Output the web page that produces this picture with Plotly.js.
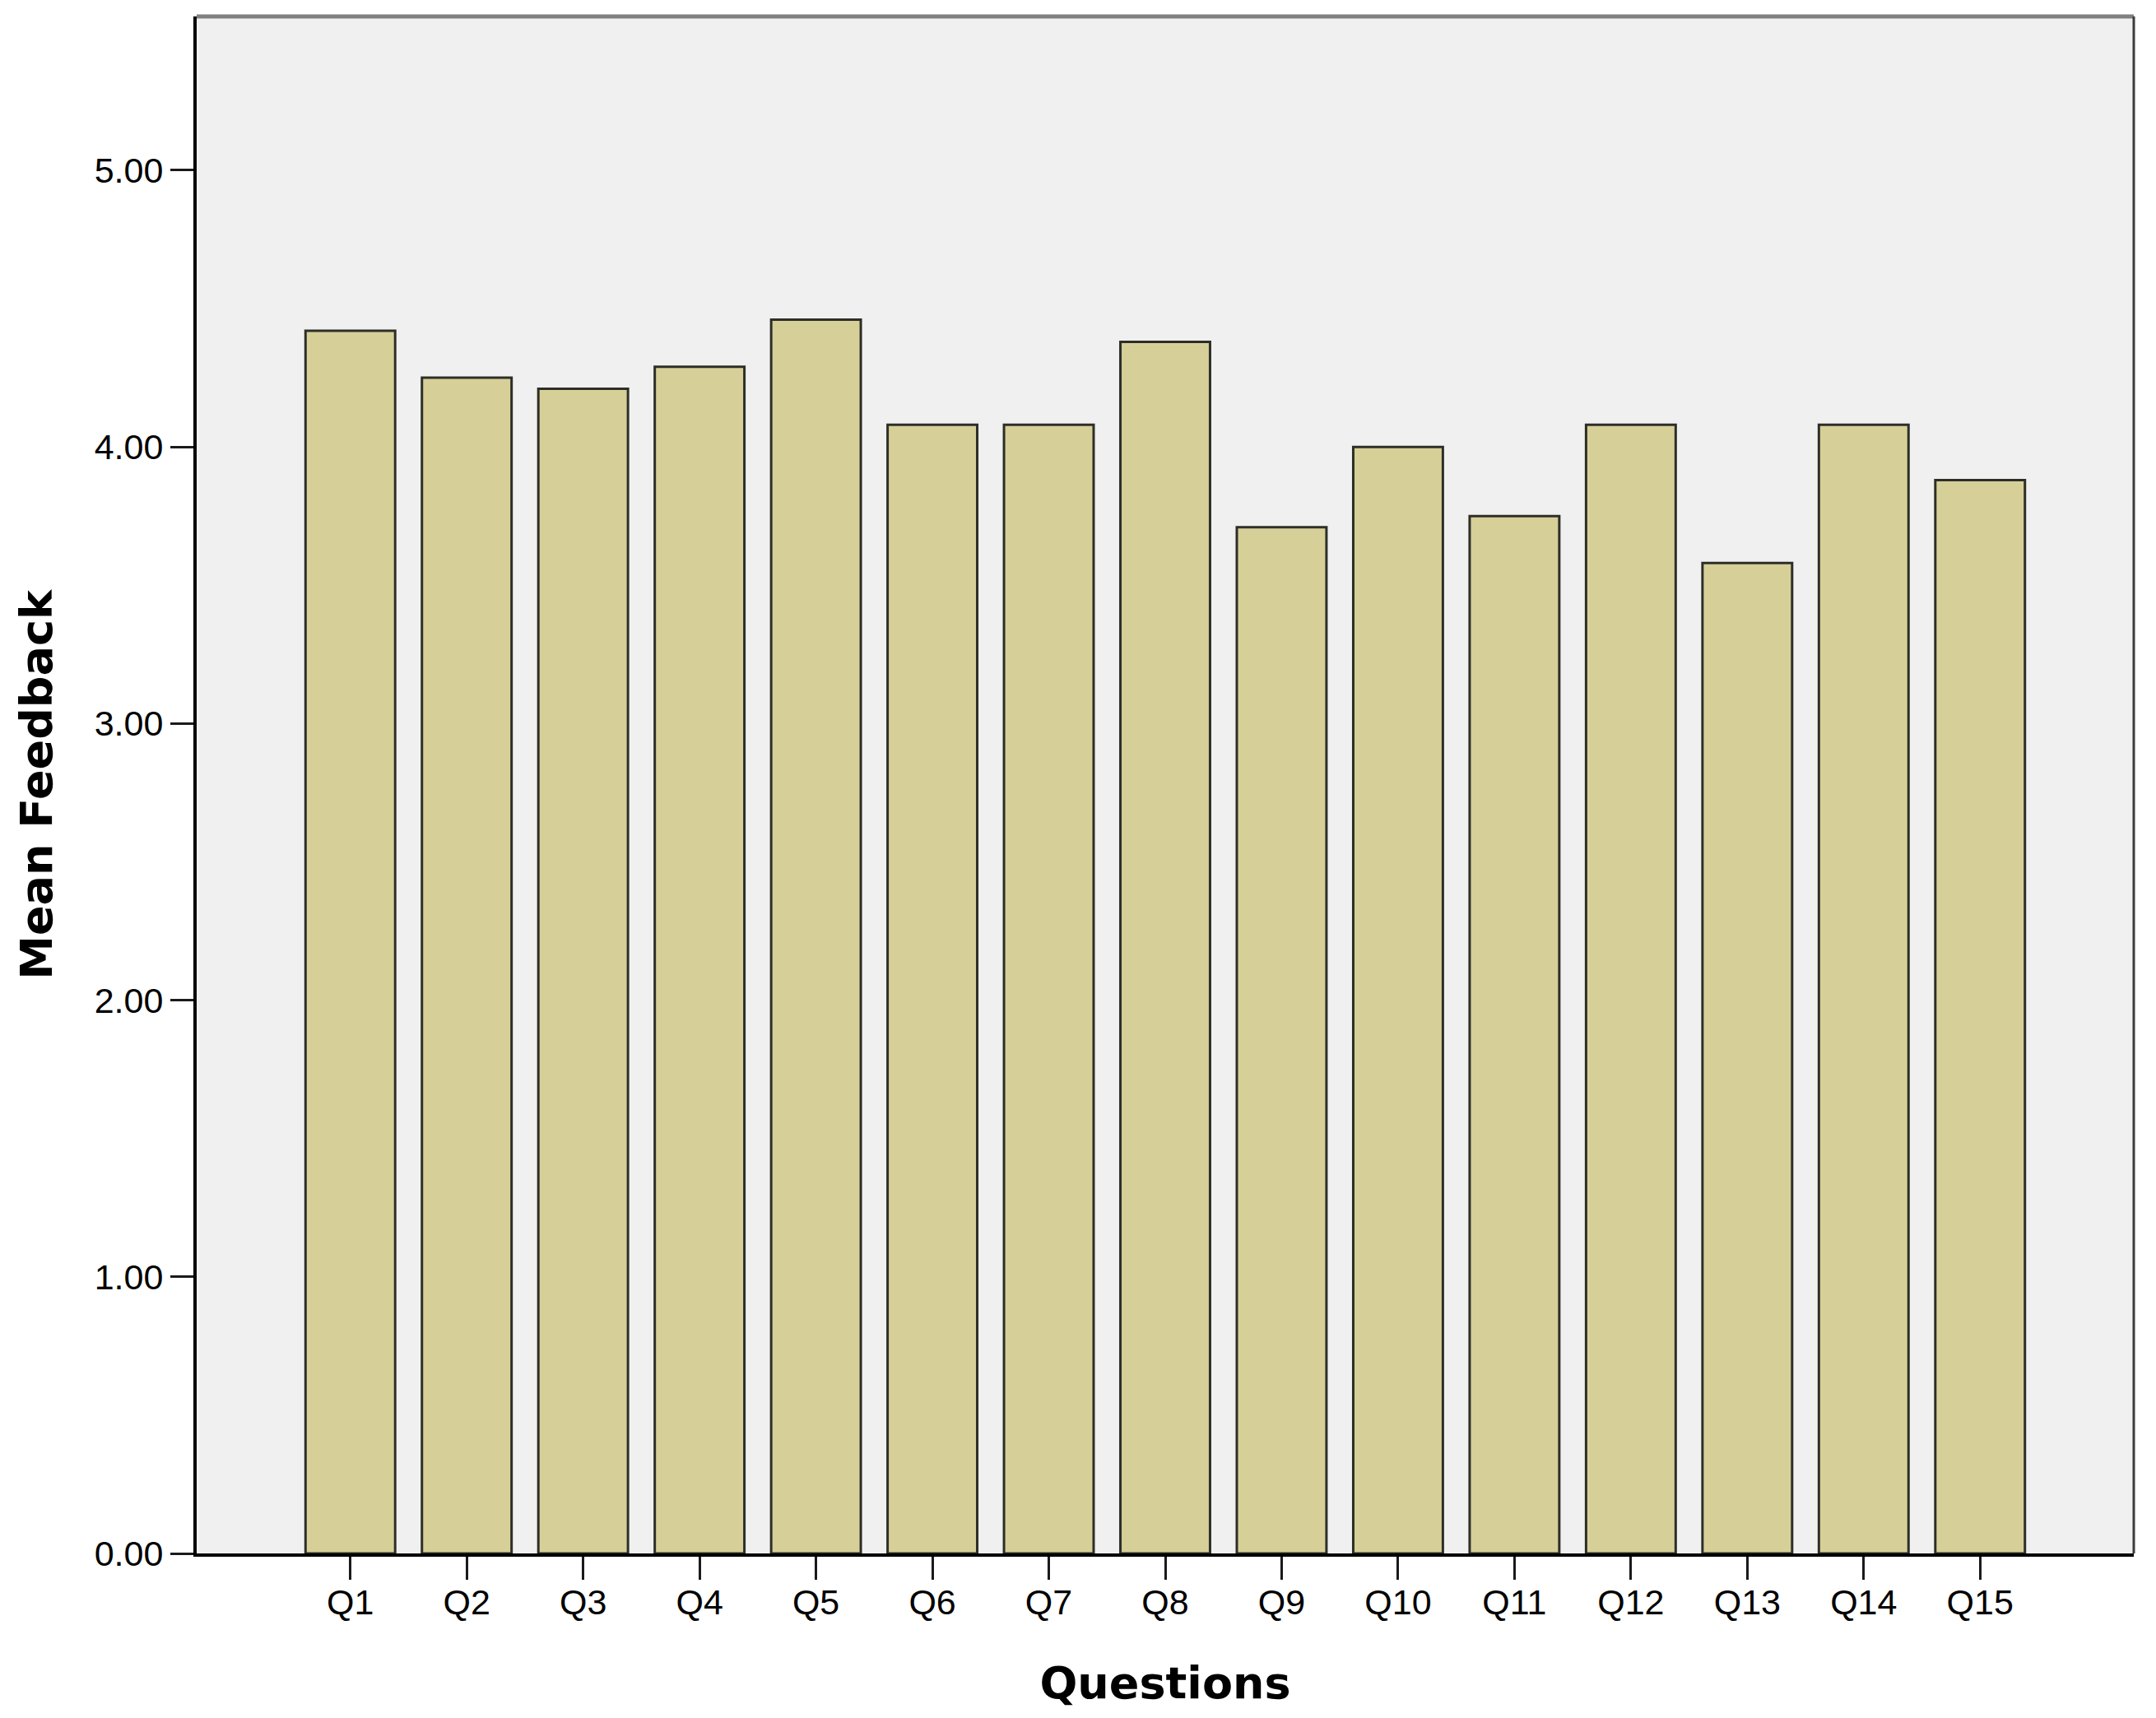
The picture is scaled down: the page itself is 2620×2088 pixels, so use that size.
<!DOCTYPE html>
<html>
<head>
<meta charset="utf-8">
<script src="https://cdn.plot.ly/plotly-3.0.1.min.js"></script>
<style>
  html, body { margin: 0; padding: 0; background: #ffffff; }
  #plot { width: 2620px; height: 2088px; }
</style>
</head>
<body>
<div id="plot"></div>
<script>
var questions = ['Q1', 'Q2', 'Q3', 'Q4', 'Q5', 'Q6', 'Q7', 'Q8', 'Q9', 'Q10', 'Q11', 'Q12', 'Q13', 'Q14', 'Q15'];
var meanFeedback = [4.42, 4.25, 4.21, 4.29, 4.46, 4.08, 4.08, 4.38, 3.71, 4.00, 3.75, 4.08, 3.58, 4.08, 3.88];
var yTicks = [0, 1, 2, 3, 4, 5];

var trace1 = {
  x: questions,
  y: meanFeedback,
  type: 'bar',
  marker: {
    color: '#d6d098',
    line: { color: '#2e2e28', width: 3 }
  },
  hoverinfo: 'x+y'
};

var layout = {
  width: 2620,
  height: 2088,
  margin: { l: 239, r: 27, t: 20, b: 200 },
  paper_bgcolor: '#ffffff',
  plot_bgcolor: '#f0f0f0',
  bargap: 0.23,
  showlegend: false,
  font: { family: 'Liberation Sans, Arial, sans-serif', color: '#000000' },
  xaxis: {
    type: 'category',
    range: [-1.32, 15.32],
    showgrid: false,
    zeroline: false,
    showline: true,
    linecolor: '#000000',
    linewidth: 4,
    ticks: 'outside',
    ticklen: 28,
    tickwidth: 3,
    tickcolor: '#1a1a1a',
    ticklabelstandoff: -10,
    tickfont: { size: 43, family: 'Liberation Sans, Arial, sans-serif' },
    title: {
      text: 'Questions',
      standoff: 58,
      font: { size: 54, family: 'DejaVu Sans, Verdana, sans-serif', weight: 'bold' }
    }
  },
  yaxis: {
    range: [0, 5.556],
    tickvals: yTicks,
    tickformat: '.2f',
    showgrid: false,
    zeroline: false,
    showline: true,
    linecolor: '#000000',
    linewidth: 4,
    ticks: 'outside',
    ticklen: 28,
    tickwidth: 3,
    tickcolor: '#1a1a1a',
    tickfont: { size: 43, family: 'Liberation Sans, Arial, sans-serif' },
    title: {
      text: 'Mean Feedback',
      standoff: 35,
      font: { size: 54, family: 'DejaVu Sans, Verdana, sans-serif', weight: 'bold' }
    }
  },
  shapes: [
    // top and right frame of the plot area
    { type: 'line', xref: 'x domain', yref: 'y domain', x0: 0, x1: 1, y0: 1, y1: 1,
      line: { color: '#808080', width: 5 } },
    { type: 'line', xref: 'x domain', yref: 'y domain', x0: 1, x1: 1, y0: 0, y1: 1,
      line: { color: '#3c3c3c', width: 3 } }
  ]
};

Plotly.newPlot('plot', [trace1], layout, { displayModeBar: false, staticPlot: true });
</script>
</body>
</html>
